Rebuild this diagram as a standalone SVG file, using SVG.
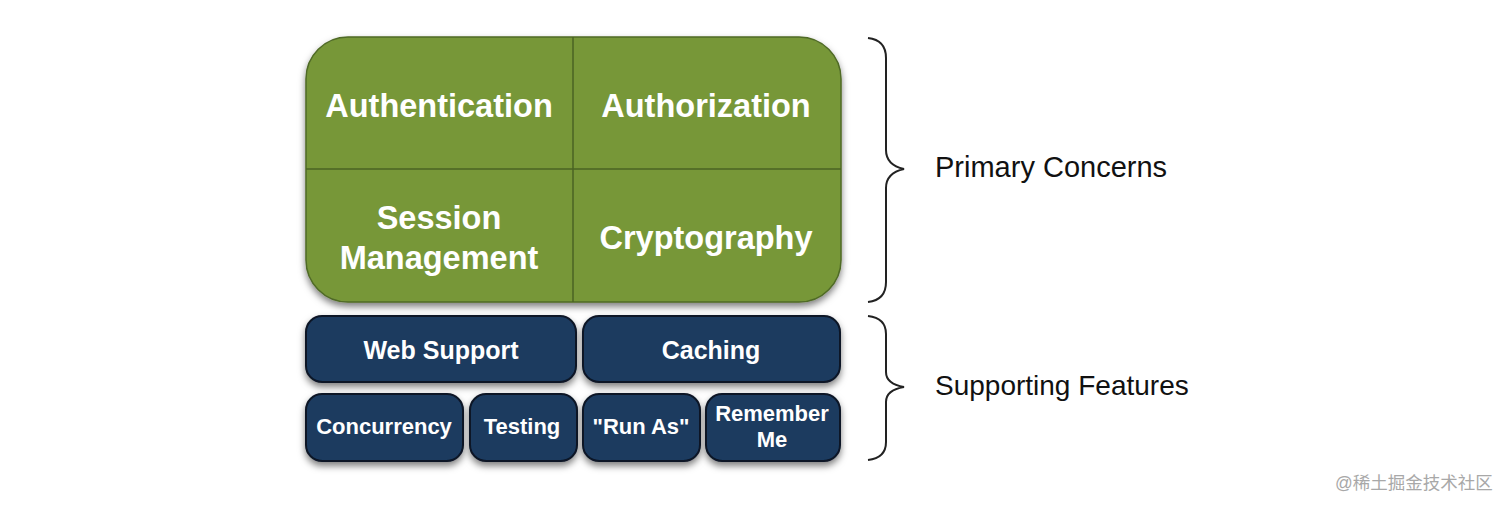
<svg xmlns="http://www.w3.org/2000/svg" width="1512" height="509" viewBox="0 0 1512 509">
<defs>
<filter id="sh" x="-10%" y="-10%" width="120%" height="130%">
<feDropShadow dx="0" dy="4" stdDeviation="3.5" flood-color="#000" flood-opacity="0.5"/>
</filter>
<style>
.green{fill:#779739;stroke:#4f6a25;stroke-width:1.5}
.blue{fill:#1b3a5f;stroke:#0b1626;stroke-width:2}
.gt{font-family:"Liberation Sans",Arial,sans-serif;font-weight:bold;font-size:32.5px;fill:#fff;text-anchor:middle}
.bt1{font-family:"Liberation Sans",Arial,sans-serif;font-weight:bold;font-size:25px;fill:#fff;text-anchor:middle}
.bt2{font-family:"Liberation Sans",Arial,sans-serif;font-weight:bold;font-size:22px;fill:#fff;text-anchor:middle}
.lbl{font-family:"Liberation Sans",Arial,sans-serif;fill:#111}
.brace{fill:none;stroke:#222;stroke-width:2}
.div{stroke:#4a6323;stroke-width:1.5}
</style>
</defs>
<rect width="1512" height="509" fill="#fff"/>
<g id="primary">
<rect class="green" x="306" y="37" width="535" height="265" rx="42" filter="url(#sh)"/>
<line class="div" x1="573" y1="37" x2="573" y2="302"/>
<line class="div" x1="306" y1="169" x2="841" y2="169"/>
</g>
<g id="authentication"><text class="gt" x="439" y="117">Authentication</text></g>
<g id="authorization"><text class="gt" x="706" y="117">Authorization</text></g>
<g id="session-management"><text class="gt" x="439" y="229">Session</text><text class="gt" x="439" y="269">Management</text></g>
<g id="cryptography"><text class="gt" x="706" y="249">Cryptography</text></g>
<g id="web-support"><rect class="blue" x="306" y="316" width="270" height="66" rx="16" filter="url(#sh)"/><text class="bt1" x="441" y="359">Web Support</text></g>
<g id="caching"><rect class="blue" x="583" y="316" width="257" height="66" rx="16" filter="url(#sh)"/><text class="bt1" x="711" y="359">Caching</text></g>
<g id="concurrency"><rect class="blue" x="306" y="394" width="157" height="67" rx="16" filter="url(#sh)"/><text class="bt2" x="384" y="434">Concurrency</text></g>
<g id="testing"><rect class="blue" x="470" y="394" width="107" height="67" rx="16" filter="url(#sh)"/><text class="bt2" x="522" y="434">Testing</text></g>
<g id="run-as"><rect class="blue" x="583" y="394" width="117" height="67" rx="16" filter="url(#sh)"/><text class="bt2" x="641" y="434">"Run As"</text></g>
<g id="remember-me"><rect class="blue" x="706" y="394" width="134" height="67" rx="16" filter="url(#sh)"/><text class="bt2" x="772" y="421">Remember</text><text class="bt2" x="772" y="447">Me</text></g>
<g id="connectors">
<path class="brace" d="M868,38 Q886,40 886,58 L886,150 Q886,165 904,169 Q886,173 886,188 L886,282 Q886,300 868,302"/>
<path class="brace" d="M868,316 Q886,318 886,334 L886,372 Q886,384 904,387 Q886,390 886,402 L886,442 Q886,458 868,460"/>
</g>
<g id="primary-concerns"><text class="lbl" x="935" y="177" font-size="29">Primary Concerns</text></g>
<g id="supporting-features"><text class="lbl" x="935" y="395" font-size="28">Supporting Features</text></g>
<text x="1335" y="489" font-family="'Liberation Sans','Noto Sans CJK SC',sans-serif" font-size="17.5" fill="#a8a8a8">@稀土掘金技术社区</text>
</svg>
